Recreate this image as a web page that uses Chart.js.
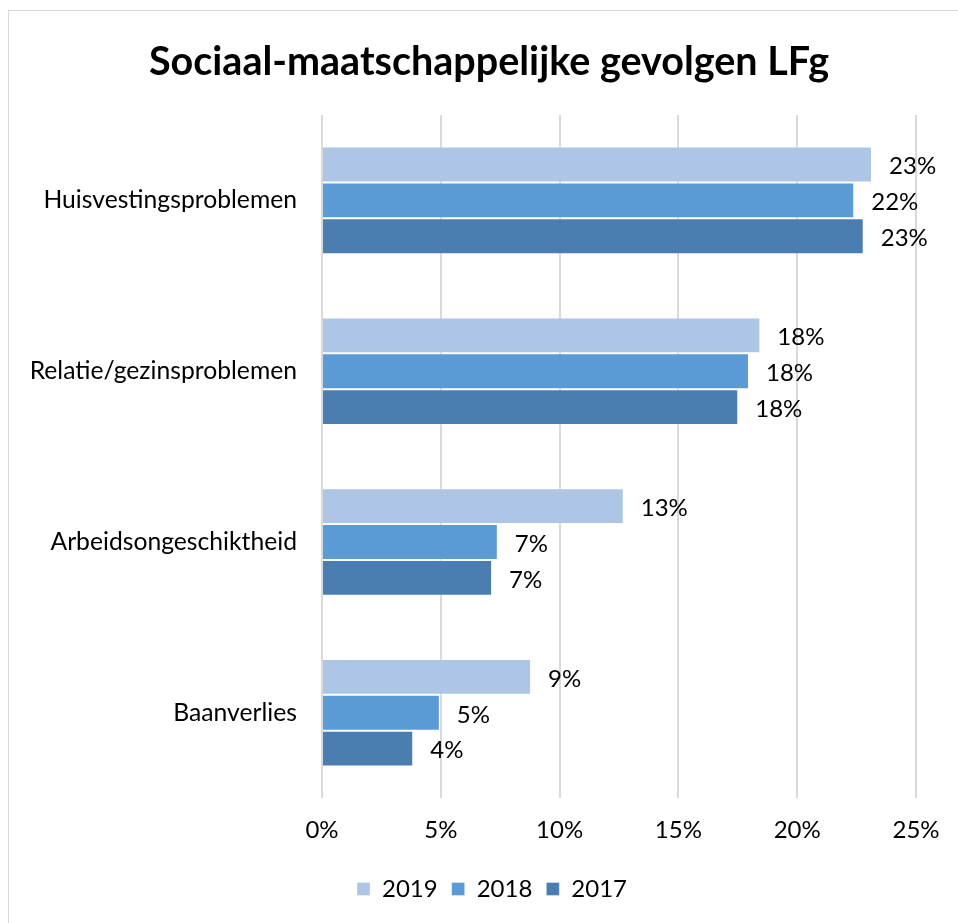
<!DOCTYPE html>
<html>
<head>
<meta charset="utf-8">
<style>
    html, body { margin: 0; padding: 0; background: #fff; }
    #wrap { position: relative; width: 958px; height: 923px; overflow: hidden; }
    #frame { position: absolute; left: 8px; top: 10px; width: 1000px; height: 1000px; border: 1px solid #d9d9d9; box-sizing: border-box; }
    #chart { position: absolute; left: 0; top: 0; }
</style>
<script src="https://cdn.jsdelivr.net/npm/chart.js@4.4.1/dist/chart.umd.min.js"></script>
</head>
<body>
<div id="wrap">
    <div id="frame"></div>
    <canvas id="chart" width="958" height="923"></canvas>
</div>
<script>
(function () {
    'use strict';

    const titleText = 'Sociaal-maatschappelijke gevolgen LFg';
    const categories = ['Huisvestingsproblemen', 'Relatie/gezinsproblemen', 'Arbeidsongeschiktheid', 'Baanverlies'];
    const years = ['2019', '2018', '2017'];
    const values2019 = [23.15, 18.45, 12.7, 8.8];
    const values2018 = [22.4, 17.97, 7.4, 4.96];
    const values2017 = [22.8, 17.52, 7.16, 3.84];
    const tickValues = [0, 5, 10, 15, 20, 25];

    const FONT = 'Lato, "Open Sans", sans-serif';
    const colors = ['#adc6e6', '#5a9ad5', '#4a7eb0'];
    const series = [values2019, values2018, values2017];

    // titel gecentreerd over het hele kader, niet over de grafiek
    const titlePlugin = {
        id: 'titlePlugin',
        afterDraw(chart) {
            const ctx = chart.ctx;
            ctx.save();
            ctx.font = 'bold 39.5px ' + FONT;
            ctx.fillStyle = '#000';
            ctx.textAlign = 'center';
            ctx.textBaseline = 'middle';
            ctx.fillText(titleText, 489, 62);
            ctx.restore();
        }
    };

    // legenda iets naar rechts, zoals in het origineel
    const legendShift = {
        id: 'legendShift',
        afterLayout(chart) {
            if (chart.legend) {
                chart.legend.left += 34;
                chart.legend.right += 34;
            }
        }
    };

    const valueLabels = {
        id: 'valueLabels',
        afterDatasetsDraw(chart) {
            const ctx = chart.ctx;
            ctx.save();
            ctx.font = '24px ' + FONT;
            ctx.fillStyle = '#000';
            ctx.textAlign = 'left';
            ctx.textBaseline = 'middle';
            chart.data.datasets.forEach((ds, i) => {
                chart.getDatasetMeta(i).data.forEach((bar, j) => {
                    const txt = Math.round(ds.data[j]) + '%';
                    ctx.fillText(txt, bar.x + 17, bar.y + 2);
                });
            });
            ctx.restore();
        }
    };

    new Chart(document.getElementById('chart'), {
        type: 'bar',
        data: {
            labels: categories,
            datasets: years.map((y, i) => ({
                label: y,
                data: series[i],
                backgroundColor: colors[i],
                borderColor: 'rgba(255,255,255,0.35)',
                borderWidth: 1,
                barPercentage: 1,
                categoryPercentage: 0.63
            }))
        },
        options: {
            indexAxis: 'y',
            responsive: false,
            animation: false,
            layout: { padding: { left: 0, right: 42, top: 115, bottom: 12 } },
            plugins: {
                title: { display: false },
                legend: {
                    position: 'bottom',
                    labels: {
                        color: '#000',
                        font: { family: FONT, size: 24 },
                        boxWidth: 13,
                        boxHeight: 13,
                        padding: 14
                    }
                },
                tooltip: { enabled: false }
            },
            scales: {
                x: {
                    min: 0,
                    max: 25,
                    afterBuildTicks(scale) {
                        scale.ticks = tickValues.map((v) => ({ value: v }));
                    },
                    ticks: {
                        color: '#000',
                        font: { family: FONT, size: 24 },
                        padding: 18,
                        callback: (v) => v + '%'
                    },
                    grid: { color: '#d9d9d9', lineWidth: 2, drawTicks: false },
                    border: { display: false }
                },
                y: {
                    afterFit(scale) { scale.width = 322; },
                    ticks: {
                        color: '#000',
                        font: { family: FONT, size: 24.7 },
                        padding: 25
                    },
                    grid: { display: false, drawTicks: false },
                    border: { display: false }
                }
            }
        },
        plugins: [valueLabels, titlePlugin, legendShift]
    });
})();
</script>
</body>
</html>
